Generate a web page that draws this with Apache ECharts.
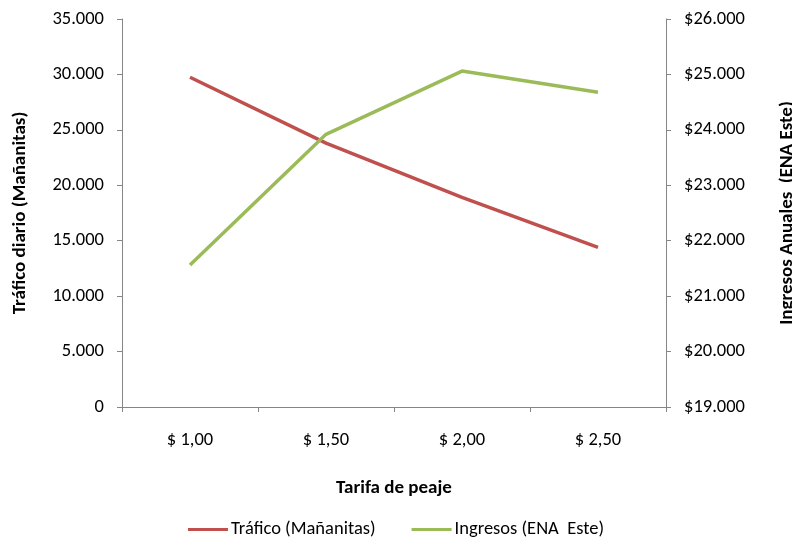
<!DOCTYPE html>
<html><head><meta charset="utf-8">
<script src="https://cdn.jsdelivr.net/npm/echarts@6/dist/echarts.min.js"></script>
<style>html,body{margin:0;padding:0;background:#fff}#c{width:792px;height:546px}</style>
</head><body><div id="c"></div>
<script>
const categories = ['$ 1,00', '$ 1,50', '$ 2,00', '$ 2,50'];
const trafico = [29750, 23800, 18900, 14400];
const ingresos = [21560, 23920, 25060, 24680];
const seriesNames = ['Tráfico (Mañanitas)', 'Ingresos (ENA  Este)'];

const FONT = 'Carlito, Calibri, Lato, sans-serif';
const fmt = v => String(v).replace(/\B(?=(\d{3})+(?!\d))/g, '.');
const axisLine = {show: true, lineStyle: {color: '#868686', width: 1}};
const chart = echarts.init(document.getElementById('c'), null, {renderer: 'canvas'});
chart.setOption({
  animation: false,
  textStyle: {fontFamily: FONT},
  grid: {left: 122, right: 126, top: 19, bottom: 139, containLabel: false, outerBoundsMode: 'none'},
  legend: {
    bottom: 2, left: 'center', itemWidth: 40, itemHeight: 3, itemGap: 36,
    icon: 'rect',
    textStyle: {fontFamily: FONT, fontSize: 18.5, color: '#000', padding: [0, 0, 0, -2]},
    data: seriesNames
  },
  xAxis: {
    type: 'category', data: categories, boundaryGap: true,
    name: 'Tarifa de peaje', nameLocation: 'middle', nameGap: 72,
    nameTextStyle: {fontFamily: FONT, fontSize: 19, fontWeight: 'bold', color: '#000'},
    axisLine: axisLine,
    axisTick: {show: true, length: 5, lineStyle: {color: '#868686'}},
    axisLabel: {fontFamily: FONT, fontSize: 18.5, color: '#000', margin: 24}
  },
  yAxis: [{
    type: 'value', min: 0, max: 35000, interval: 5000, position: 'left',
    name: 'Tráfico diario (Mañanitas)', nameLocation: 'middle', nameGap: 92, nameRotate: 90,
    nameTextStyle: {fontFamily: FONT, fontSize: 19, fontWeight: 'bold', color: '#000'},
    axisLine: axisLine,
    axisTick: {show: true, length: 5, lineStyle: {color: '#868686'}},
    splitLine: {show: false},
    axisLabel: {fontFamily: FONT, fontSize: 18.5, color: '#000', margin: 18, formatter: fmt}
  }, {
    type: 'value', min: 19000, max: 26000, interval: 1000, position: 'right',
    name: 'Ingresos Anuales  (ENA Este)', nameLocation: 'middle', nameGap: 112, nameRotate: 90,
    nameTextStyle: {fontFamily: FONT, fontSize: 19, fontWeight: 'bold', color: '#000'},
    axisLine: axisLine,
    axisTick: {show: true, length: 5, lineStyle: {color: '#868686'}},
    splitLine: {show: false},
    axisLabel: {fontFamily: FONT, fontSize: 18.5, color: '#000', margin: 18, formatter: v => '$' + fmt(v)}
  }],
  series: [{
    name: seriesNames[0], type: 'line', yAxisIndex: 0, data: trafico,
    symbol: 'none', lineStyle: {color: '#C0504D', width: 3.5}, itemStyle: {color: '#C0504D'}
  }, {
    name: seriesNames[1], type: 'line', yAxisIndex: 1, data: ingresos,
    symbol: 'none', lineStyle: {color: '#9BBB59', width: 3.5}, itemStyle: {color: '#9BBB59'}
  }]
});
</script></body></html>
